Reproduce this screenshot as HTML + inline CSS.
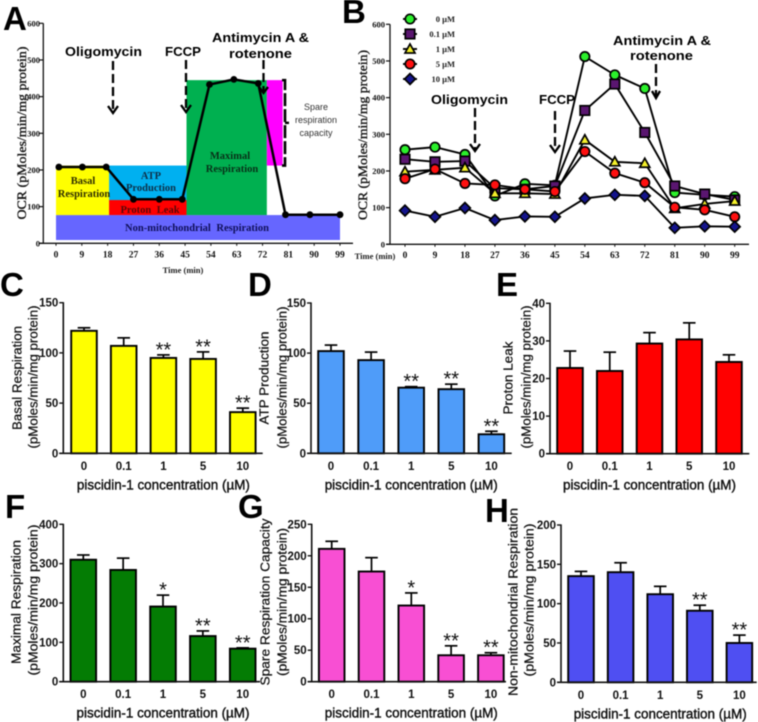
<!DOCTYPE html>
<html lang="en">
<head>
<meta charset="utf-8">
<title>Piscidin-1 mitochondrial respiration figure</title>
<style>
html,body{margin:0;padding:0;background:#fff;width:758px;height:722px;overflow:hidden}
svg{display:block;filter:blur(0.5px)}
.sans{font-family:"Liberation Sans",Arial,sans-serif}
.serif{font-family:"Liberation Serif","Times New Roman",serif}
.letter{font-family:"Liberation Sans",Arial,sans-serif;font-weight:700;font-size:33px;fill:#000}
.note{font-family:"Liberation Sans",Arial,sans-serif;font-weight:700;font-size:12.5px;fill:#000}
.arrow{fill:none;stroke:#000;stroke-width:2.3}
.region-text{font-family:"Liberation Serif",serif;font-weight:700;font-size:10.5px;text-anchor:middle}
</style>
</head>
<body>
<svg id="figure" xmlns="http://www.w3.org/2000/svg" width="758" height="722" viewBox="0 0 758 722">
  <rect x="0" y="0" width="758" height="722" fill="#fff"/>
  <g id="panelA"></g>
  <g id="panelB"></g>
  <g id="panelBars"></g>

  <g>
    <text class="letter" x="3" y="30">A</text>
    <text class="letter" x="342" y="23">B</text>
    <text class="letter" x="0" y="296">C</text>
    <text class="letter" x="248" y="296">D</text>
    <text class="letter" x="496" y="296">E</text>
    <text class="letter" x="5" y="518">F</text>
    <text class="letter" x="238" y="518">G</text>
    <text class="letter" x="485" y="522">H</text>
  </g>

  <g>
    <text class="note" x="65" y="56" textLength="77" lengthAdjust="spacingAndGlyphs">Oligomycin</text>
    <text class="note" x="165" y="56" textLength="36" lengthAdjust="spacingAndGlyphs">FCCP</text>
    <text class="note" x="212" y="42" textLength="97" lengthAdjust="spacingAndGlyphs">Antimycin A &amp;</text>
    <text class="note" x="229" y="58" textLength="63" lengthAdjust="spacingAndGlyphs">rotenone</text>
    <g>
      <line class="arrow" x1="113" y1="61" x2="113" y2="112" stroke-dasharray="9 4"/>
      <polyline class="arrow" points="108,106 113,113 118,106"/>
    </g>
    <g>
      <line class="arrow" x1="186" y1="60" x2="186" y2="111" stroke-dasharray="9 4"/>
      <polyline class="arrow" points="181,105 186,112 191,105"/>
    </g>
    <g>
      <line class="arrow" x1="263.500" y1="60" x2="263.500" y2="92" stroke-dasharray="9 4"/>
      <polyline class="arrow" points="259,87 263.500,93 268,87"/>
    </g>
    <text class="region-text" x="83" y="184" fill="#2e2e00">Basal</text>
    <text class="region-text" x="84" y="197" fill="#2e2e00">Respiration</text>
    <text class="region-text" x="151" y="179" fill="#0e3048">ATP</text>
    <text class="region-text" x="151" y="191" fill="#0e3048">Production</text>
    <text class="region-text" x="150" y="213" fill="#5a0808" word-spacing="3">Proton Leak</text>
    <text class="region-text" x="197" y="231" fill="#10105a" word-spacing="3">Non-mitochondrial Respiration</text>
    <text class="region-text" x="230" y="159" fill="#083018">Maximal</text>
    <text class="region-text" x="232" y="172" fill="#083018">Respiration</text>
    <g class="sans" font-size="9" fill="#333" text-anchor="middle">
      <text x="316" y="110">Spare</text>
      <text x="316" y="123">respiration</text>
      <text x="316" y="136">capacity</text>
    </g>
  </g>

  <g>
    <text class="note" x="431" y="104" textLength="77" lengthAdjust="spacingAndGlyphs">Oligomycin</text>
    <text class="note" x="539" y="104" textLength="36" lengthAdjust="spacingAndGlyphs">FCCP</text>
    <text class="note" x="613" y="45" textLength="98" lengthAdjust="spacingAndGlyphs">Antimycin A &amp;</text>
    <text class="note" x="630" y="60" textLength="63" lengthAdjust="spacingAndGlyphs">rotenone</text>
    <g>
      <line class="arrow" x1="475" y1="108" x2="475" y2="150" stroke-dasharray="9 4"/>
      <polyline class="arrow" points="470,144 475,151 480,144"/>
    </g>
    <g>
      <line class="arrow" x1="555" y1="111" x2="555" y2="151" stroke-dasharray="9 4"/>
      <polyline class="arrow" points="550,145 555,152 560,145"/>
    </g>
    <g>
      <line class="arrow" x1="656" y1="64" x2="656" y2="97" stroke-dasharray="9 4"/>
      <polyline class="arrow" points="652,91 656,98 660,91"/>
    </g>
  </g>
</svg>

<script>
/* ---------- Panel A data ---------- */
const timeLabels = [0, 9, 18, 27, 36, 45, 54, 63, 72, 81, 90, 99];
const ocrTicks = [0, 100, 200, 300, 400, 500, 600];
const profileTimes = [1, 9.2, 17.5, 27, 36, 44, 53.5, 62, 70.5, 80, 88.5, 99];
const profileOcr = [208, 208, 208, 120, 120, 120, 433, 447, 436, 78, 78, 78];
const regionNames = ['non-mitochondrial-region', 'basal-region', 'atp-production-region', 'proton-leak-region', 'maximal-region', 'spare-capacity-region'];
const regionStartMin = [0, 0, 18.5, 18.5, 45.5, 73.500];
const regionEndMin = [99, 18.5, 45.5, 45.5, 73.500, 79];
const regionLowOcr = [9, 77, 118, 77, 77, 212];
const regionHighOcr = [77, 212, 212, 118, 445, 445];
const regionFills = ['#6666ff', '#ffff00', '#00b0f0', '#ff0000', '#00b050', '#ff00ff'];

/* ---------- Panel B data ---------- */
const seriesLabels = ['0 µM', '0.1 µM', '1 µM', '5 µM', '10 µM'];
const ocrDose0 = [258, 265, 245, 132, 165, 161, 512, 462, 425, 141, 135, 130];
const ocrDose01 = [232, 225, 227, 153, 150, 159, 365, 437, 305, 159, 137, 121];
const ocrDose1 = [198, 203, 209, 139, 139, 137, 285, 225, 221, 98, 110, 118];
const ocrDose5 = [179, 205, 166, 162, 150, 144, 253, 194, 168, 101, 94, 75];
const ocrDose10 = [92, 75, 99, 66, 76, 75, 125, 135, 132, 45, 49, 48];

/* ---------- Bar panel data ---------- */
const doseLabels = ['0', '0.1', '1', '5', '10'];

const basalTicks = [0, 50, 100, 150];
const basalMeans = [122, 107, 95, 94, 41];
const basalUpper = [125, 115, 98, 101, 45];
const basalStars = ['', '', '**', '**', '**'];

const atpTicks = [0, 50, 100, 150];
const atpMeans = [102, 93, 65.5, 64, 19];
const atpUpper = [108, 101, 66.5, 69, 22];
const atpStars = ['', '', '**', '**', '**'];

const leakTicks = [0, 10, 20, 30, 40];
const leakMeans = [22.8, 22, 29.3, 30.4, 24.4];
const leakUpper = [27.3, 27, 32.2, 34.8, 26.3];
const leakStars = ['', '', '', '', ''];

const maximalTicks = [0, 100, 200, 300, 400];
const maximalMeans = [310, 284, 191, 116, 84];
const maximalUpper = [322, 314, 220, 129, 86];
const maximalStars = ['', '', '*', '**', '**'];

const spareTicks = [0, 50, 100, 150, 200, 250];
const spareMeans = [211, 175, 121, 42, 42];
const spareUpper = [223, 197, 141, 57, 46];
const spareStars = ['', '', '*', '**', '**'];

const nonMitoTicks = [0, 50, 100, 150, 200];
const nonMitoMeans = [135, 140, 112, 91, 50];
const nonMitoUpper = [141, 152, 122, 98, 60];
const nonMitoStars = ['', '', '', '**', '**'];

/* ---------- Helpers ---------- */
const NS = 'http://www.w3.org/2000/svg';
function create(tag, parent, attrs, text) {
  const el = document.createElementNS(NS, tag);
  for (const k in attrs) el.setAttribute(k, attrs[k]);
  if (text !== undefined) el.textContent = text;
  parent.appendChild(el);
  return el;
}
function linearScale(d0, d1, r0, r1) {
  return function (v) { return r0 + (v - d0) * (r1 - r0) / (d1 - d0); };
}
function last(a) { return a[a.length - 1]; }

/* ---------- Line panel axes (A and B) ---------- */
function drawLineAxes(parent, prefix, axisX, xEnd, y, x, titleX, titleY, titleLen, tickRight, labelY) {
  const yAxis = create('line', parent, { x1: axisX, x2: axisX, y1: y(last(ocrTicks)), y2: y(0), stroke: '#111', 'stroke-width': 1.3 });
  
  
  const xAxis = create('line', parent, { x1: axisX - 4, x2: xEnd, y1: y(0), y2: y(0), stroke: '#111', 'stroke-width': 1.3 });
  
  
  ocrTicks.forEach(function (t) {
    const tick = create('line', parent, { x1: axisX - 4, x2: axisX, y1: y(t), y2: y(t), stroke: '#111', 'stroke-width': 1.2 });
    
    
    const label = create('text', parent, { x: tickRight, y: y(t) + 3, 'text-anchor': 'end', 'font-size': 8.5, 'font-weight': 700, 'class': 'serif', fill: '#111' }, String(t));
    
    
  });
  timeLabels.forEach(function (t) {
    const tick = create('line', parent, { x1: x(t), x2: x(t), y1: y(0), y2: y(0) + 2.5, stroke: '#111', 'stroke-width': 1 });
    
    
    const label = create('text', parent, { x: x(t), y: labelY, 'text-anchor': 'middle', 'font-size': 9.5, 'font-weight': 700, 'class': 'serif', fill: '#111' }, String(t));
    
    
  });
  const title = create('text', parent, { x: titleX, y: titleY, 'text-anchor': 'middle', transform: 'rotate(-90 ' + titleX + ' ' + titleY + ')', 'font-size': 13, 'class': 'serif', fill: '#111', stroke: '#111', 'stroke-width': 0.35, textLength: titleLen, lengthAdjust: 'spacingAndGlyphs' }, 'OCR (pMoles/min/mg protein)');
  
  
}

/* ---------- Panel A ---------- */
(function () {
  const g = document.getElementById('panelA');
  const x = linearScale(0, last(timeLabels), 56, 340);
  const y = linearScale(0, last(ocrTicks), 243.3, 23.3);
  regionNames.forEach(function (name, i) {
    const r = create('rect', g, {
      x: x(regionStartMin[i]),
      y: y(regionHighOcr[i]),
      width: x(regionEndMin[i]) - x(regionStartMin[i]),
      height: y(regionLowOcr[i]) - y(regionHighOcr[i]),
      fill: regionFills[i]
    });
    
    
  });
  drawLineAxes(g, 'a', 43.3, 353, y, x, 26, 133, 173, 40, 257.500);
  const tl = create('text', g, { x: 183, y: 273, 'text-anchor': 'middle', 'font-size': 8.5, 'font-weight': 700, 'class': 'serif', fill: '#222' }, 'Time (min)');
  
  

  const spareTop = y(regionHighOcr[5]);
  const spareBottom = y(regionLowOcr[5]);
  const bracket = create('path', g, {
    d: 'M282 ' + spareTop + 'H285V' + spareBottom + 'H282',
    fill: 'none', stroke: '#000', 'stroke-width': 2.6, 'stroke-dasharray': '13 3'
  });
  
  
  const nub = create('line', g, { x1: 285, x2: 289, y1: (spareTop + spareBottom) / 2, y2: (spareTop + spareBottom) / 2, stroke: '#000', 'stroke-width': 2.4 });
  
  

  const pts = profileTimes.map(function (t, i) { return x(t) + ',' + y(profileOcr[i]); }).join(' ');
  const line = create('polyline', g, { points: pts, fill: 'none', stroke: '#000', 'stroke-width': 2.5 });
  
  
  profileTimes.forEach(function (t, i) {
    const c = create('circle', g, { cx: x(t), cy: y(profileOcr[i]), r: 3.4, fill: '#000' });
    
    
  });
})();

/* ---------- Panel B ---------- */
function drawMarker(parent, kind, cx, cy, fill) {
  const st = { fill: fill, stroke: '#000', 'stroke-width': 1.7 };
  let el;
  if (kind === 'circle') {
    el = create('circle', parent, Object.assign({ cx: cx, cy: cy, r: 4.7 }, st));
  } else if (kind === 'square') {
    el = create('rect', parent, Object.assign({ x: cx - 4.7, y: cy - 4.7, width: 9.4, height: 9.4 }, st));
  } else if (kind === 'triangle') {
    el = create('polygon', parent, Object.assign({ points: (cx - 5) + ',' + (cy + 4) + ' ' + (cx + 5) + ',' + (cy + 4) + ' ' + cx + ',' + (cy - 5) }, st));
  } else {
    el = create('polygon', parent, Object.assign({ points: (cx - 5.4) + ',' + cy + ' ' + cx + ',' + (cy - 5.4) + ' ' + (cx + 5.4) + ',' + cy + ' ' + cx + ',' + (cy + 5.4) }, st));
  }
  return el;
}
(function () {
  const g = document.getElementById('panelB');
  const x = linearScale(0, last(timeLabels), 405, 734.7);
  const y = linearScale(0, last(ocrTicks), 244.3, 24.3);
  drawLineAxes(g, 'b', 390, 749, y, x, 367, 135, 170, 385, 258);
  const tl = create('text', g, { x: 375, y: 259, 'text-anchor': 'middle', 'font-size': 8.5, 'font-weight': 700, 'class': 'serif', fill: '#222' }, 'Time (min)');
  
  

  const allSeries = [ocrDose0, ocrDose01, ocrDose1, ocrDose5, ocrDose10];
  const kinds = ['circle', 'square', 'triangle', 'circle', 'diamond'];
  const fills = ['#2bf02b', '#5a1670', '#f4f02a', '#ff1010', '#14148c'];
  allSeries.forEach(function (series, s) {
    const pts = series.map(function (v, i) { return x(timeLabels[i]) + ',' + y(v); }).join(' ');
    const line = create('polyline', g, { points: pts, fill: 'none', stroke: '#000', 'stroke-width': 1.9 });
    
    
    series.forEach(function (v, i) {
      const m = drawMarker(g, kinds[s], x(timeLabels[i]), y(v), fills[s]);
      
      
    });
  });
  const legendStep = 15;
  seriesLabels.forEach(function (label, s) {
    const ly = 19 + s * legendStep;
    const sample = create('line', g, { x1: 403, x2: 417, y1: ly, y2: ly, stroke: '#000', 'stroke-width': 1.9 });
    
    
    const m = drawMarker(g, kinds[s], 410, ly, fills[s]);
    
    
    const t = create('text', g, { x: 455, y: ly + 3, 'text-anchor': 'end', 'font-size': 8.5, 'font-weight': 700, 'class': 'serif', fill: '#222' }, label);
    
    
  });
})();

/* ---------- Bar panels ---------- */
function drawBarPanel(c) {
  const root = document.getElementById('panelBars');
  const g = create('g', root, {});
  
  
  const y = linearScale(0, last(c.ticks), c.y0, c.yTop);
  const x = function (i) { return c.first + i * c.step; };

  c.means.forEach(function (v, i) {
    const cap = create('line', g, { x1: x(i) - 6.3, x2: x(i) + 6.3, y1: y(c.upper[i]), y2: y(c.upper[i]), stroke: '#000', 'stroke-width': 1.7 });
    
    
    const err = create('line', g, { x1: x(i), x2: x(i), y1: y(c.upper[i]), y2: y(v), stroke: '#000', 'stroke-width': 1.7 });
    
    
    const bar = create('rect', g, { x: x(i) - 12.8, y: y(v), width: 25.6, height: c.y0 - y(v), fill: c.color, stroke: '#000', 'stroke-width': 1.9 });
    
    
    if (c.stars[i]) {
      const s = create('text', g, { x: x(i), y: y(c.upper[i]) + 1.5, 'text-anchor': 'middle', 'font-size': 20, 'class': 'sans', fill: '#111' }, c.stars[i]);
      
      
    }
    const lab = create('text', g, { x: x(i), y: c.y0 + 16.5, 'text-anchor': 'middle', 'font-size': 11.5, 'font-weight': 700, 'class': 'sans', fill: '#111' }, doseLabels[i]);
    
    
  });

  const yAxis = create('line', g, { x1: c.axisX, x2: c.axisX, y1: c.yTop - 0.6, y2: c.y0 + 0.6, stroke: '#111', 'stroke-width': 1.6 });
  
  
  const xAxis = create('line', g, { x1: c.axisX - 4, x2: c.xEnd, y1: c.y0, y2: c.y0, stroke: '#111', 'stroke-width': 1.6 });
  
  

  c.ticks.forEach(function (t) {
    const tick = create('line', g, { x1: c.axisX - 4, x2: c.axisX, y1: y(t), y2: y(t), stroke: '#111', 'stroke-width': 1.4 });
    
    
    const lab = create('text', g, { x: c.axisX - 5, y: y(t) + 4, 'text-anchor': 'end', 'font-size': 11.5, 'font-weight': 700, 'class': 'sans', fill: '#111' }, String(t));
    
    
  });

  const xt = create('text', g, { x: x(2), y: c.y0 + 36, 'text-anchor': 'middle', 'font-size': 13.5, 'class': 'sans', fill: '#111', stroke: '#111', 'stroke-width': 0.4, textLength: 173, lengthAdjust: 'spacingAndGlyphs' }, 'piscidin-1 concentration (µM)');
  
  

  const t1 = create('text', g, { x: c.t1x + 4.5, y: c.t1y, 'text-anchor': 'middle', transform: 'rotate(-90 ' + (c.t1x + 4.5) + ' ' + c.t1y + ')', 'font-size': 13, 'class': 'sans', fill: '#111', stroke: '#111', 'stroke-width': 0.25, textLength: c.t1len, lengthAdjust: 'spacingAndGlyphs' }, c.title);
  
  
  const t2 = create('text', g, { x: c.t2x + 4.5, y: c.t2y, 'text-anchor': 'middle', transform: 'rotate(-90 ' + (c.t2x + 4.5) + ' ' + c.t2y + ')', 'font-size': 13, 'class': 'sans', fill: '#111', stroke: '#111', 'stroke-width': 0.25, textLength: c.t2len, lengthAdjust: 'spacingAndGlyphs' }, '(pMoles/min/mg protein)');
  
  
}

drawBarPanel({ id: 'basal', title: 'Basal Respiration', ticks: basalTicks, means: basalMeans, upper: basalUpper, stars: basalStars, color: '#ffff00',
  axisX: 63.3, y0: 453.3, yTop: 302.7, first: 84, step: 39.7, xEnd: 262.7, t1x: 17, t1y: 378, t1len: 104, t2x: 33, t2y: 377, t2len: 143 });
drawBarPanel({ id: 'atp', title: 'ATP Production', ticks: atpTicks, means: atpMeans, upper: atpUpper, stars: atpStars, color: '#4f9cf9',
  axisX: 311, y0: 453.3, yTop: 303, first: 331, step: 40.1, xEnd: 511.7, t1x: 264, t1y: 378, t1len: 93, t2x: 282, t2y: 377.5, t2len: 142 });
drawBarPanel({ id: 'proton-leak', title: 'Proton Leak', ticks: leakTicks, means: leakMeans, upper: leakUpper, stars: leakStars, color: '#ff0000',
  axisX: 550, y0: 453.7, yTop: 303.3, first: 570, step: 39.75, xEnd: 749.3, t1x: 508, t1y: 378, t1len: 73, t2x: 526, t2y: 377, t2len: 143 });
drawBarPanel({ id: 'maximal', title: 'Maximal Respiration', ticks: maximalTicks, means: maximalMeans, upper: maximalUpper, stars: maximalStars, color: '#047c04',
  axisX: 63.3, y0: 681.7, yTop: 524.3, first: 83.3, step: 39.85, xEnd: 260, t1x: 16, t1y: 602, t1len: 124, t2x: 33, t2y: 600, t2len: 151 });
drawBarPanel({ id: 'spare', title: 'Spare Respiration Capacity', ticks: spareTicks, means: spareMeans, upper: spareUpper, stars: spareStars, color: '#f84fd3',
  axisX: 311.7, y0: 681.7, yTop: 524.3, first: 331.7, step: 39.8, xEnd: 506, t1x: 265, t1y: 602, t1len: 167, t2x: 282, t2y: 602, t2len: 148 });
drawBarPanel({ id: 'non-mitochondrial', title: 'Non-mitochondrial Respiration', ticks: nonMitoTicks, means: nonMitoMeans, upper: nonMitoUpper, stars: nonMitoStars, color: '#4f4ff2',
  axisX: 561, y0: 682.3, yTop: 525, first: 581, step: 39.6, xEnd: 756.7, t1x: 513, t1y: 602, t1len: 188, t2x: 529, t2y: 600, t2len: 153 });
</script>
</body>
</html>
